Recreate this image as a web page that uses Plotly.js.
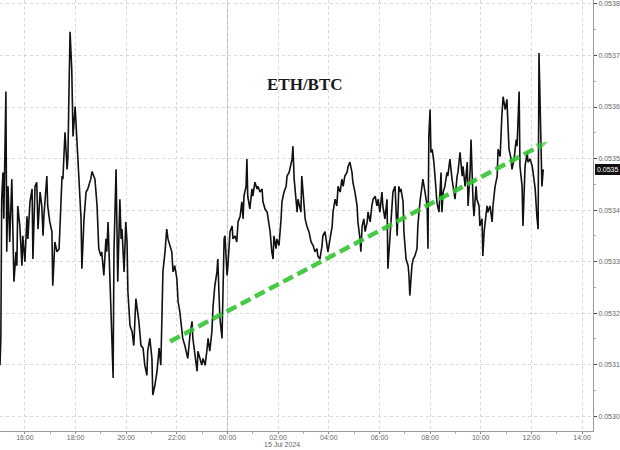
<!DOCTYPE html>
<html>
<head>
<meta charset="utf-8">
<script src="https://cdn.plot.ly/plotly-3.0.1.min.js"></script>
<style>html,body{margin:0;padding:0;background:#fff;}#chart{width:620px;height:450px;}</style>
</head>
<body>
<div id="chart"></div>
<script>
const day1 = "2024-07-14";
const times1 = ["15:01","15:03","15:05","15:08","15:10","15:15","15:17","15:20","15:22","15:24",
"15:29","15:32","15:34","15:39","15:41","15:43","15:48","15:53","15:55","16:00",
"16:05","16:07","16:12","16:17","16:19","16:24","16:28","16:31","16:36","16:40",
"16:43","16:45","16:52","16:54","16:59","17:04","17:06","17:11","17:16","17:21",
"17:25","17:28","17:30","17:35","17:40","17:42","17:44","17:47","17:51","17:54",
"17:59","18:03","18:06","18:10","18:13","18:15","18:20","18:25","18:29","18:36",
"18:39","18:46","18:51","18:55","19:00","19:02","19:07","19:12","19:14","19:17",
"19:21","19:24","19:29","19:31","19:36","19:38","19:40","19:45","19:48","19:50",
"19:55","19:59","20:02","20:04","20:09","20:14","20:18","20:23","20:28","20:30",
"20:35","20:40","20:44","20:49","20:51","20:56","21:01","21:03","21:08","21:13",
"21:18","21:22","21:25","21:27","21:32","21:36","21:39","21:44","21:48","21:51",
"21:55","22:00","22:03","22:07","22:12","22:14","22:19","22:24","22:26","22:31",
"22:36","22:38","22:43","22:48","22:50","22:55","22:59","23:02","23:07","23:11",
"23:14","23:18","23:23","23:26","23:30","23:35","23:37","23:40","23:42","23:47",
"23:49","23:52","23:54","23:59"];
const values1 = [0.053099,0.053151,0.053421,0.053473,0.053383,0.053630,0.053319,0.053446,0.053396,0.053338,
0.053460,0.053369,0.053261,0.053319,0.053292,0.053408,0.053369,0.053292,0.053350,0.053300,
0.053388,0.053344,0.053416,0.053441,0.053305,0.053446,0.053454,0.053363,0.053435,0.053408,
0.053350,0.053388,0.053466,0.053408,0.053377,0.053358,0.053253,0.053338,0.053319,0.053325,
0.053416,0.053466,0.053460,0.053551,0.053479,0.053504,0.053609,0.053746,0.053673,0.053543,
0.053601,0.053531,0.053499,0.053435,0.053383,0.053286,0.053383,0.053435,0.053441,0.053460,
0.053475,0.053460,0.053408,0.053325,0.053311,0.053319,0.053273,0.053344,0.053319,0.053377,
0.053253,0.053203,0.053074,0.053319,0.053479,0.053350,0.053261,0.053421,0.053344,0.053363,
0.053280,0.053377,0.053338,0.053242,0.053176,0.053164,0.053137,0.053228,0.053203,0.053184,
0.053137,0.053132,0.053099,0.053079,0.053126,0.053151,0.053112,0.053041,0.053060,0.053087,
0.053132,0.053099,0.053203,0.053280,0.053319,0.053363,0.053344,0.053331,0.053319,0.053280,
0.053292,0.053267,0.053222,0.053203,0.053164,0.053151,0.053137,0.053118,0.053112,0.053157,
0.053184,0.053151,0.053118,0.053087,0.053126,0.053112,0.053099,0.053112,0.053099,0.053126,
0.053151,0.053126,0.053164,0.053215,0.053253,0.053280,0.053305,0.053234,0.053190,0.053151,
0.053215,0.053344,0.053350,0.053273];

const day2 = "2024-07-15";
const times2 = ["00:01","00:06","00:11","00:13","00:18","00:22","00:25","00:30","00:34","00:37",
"00:39","00:44","00:46","00:48","00:53","00:58","01:00","01:05","01:10","01:12",
"01:17","01:22","01:24","01:29","01:34","01:36","01:41","01:45","01:48","01:50",
"01:55","01:57","02:02","02:07","02:09","02:14","02:19","02:21","02:26","02:33",
"02:35","02:38","02:42","02:45","02:47","02:52","02:54","02:56","03:01","03:04",
"03:08","03:13","03:18","03:23","03:27","03:32","03:34","03:39","03:44","03:46",
"03:51","03:56","03:58","04:03","04:08","04:10","04:15","04:19","04:22","04:27",
"04:31","04:34","04:38","04:43","04:46","04:50","04:55","04:57","05:02","05:07",
"05:09","05:14","05:16","05:19","05:23","05:26","05:31","05:33","05:38","05:42",
"05:45","05:50","05:54","05:57","06:01","06:06","06:08","06:13","06:18","06:20",
"06:25","06:30","06:32","06:37","06:42","06:46","06:49","06:51","06:56","06:58",
"07:03","07:08","07:10","07:12","07:17","07:20","07:24","07:29","07:31","07:36",
"07:41","07:43","07:48","07:53","07:55","07:57","08:00","08:02","08:05","08:09",
"08:14","08:16","08:21","08:26","08:28","08:31","08:35","08:40","08:42","08:47",
"08:52","08:54","08:59","09:04","09:06","09:11","09:16","09:18","09:23","09:28",
"09:30","09:35","09:37","09:42","09:44","09:49","09:51","09:56","09:58","10:03",
"10:05","10:08","10:10","10:15","10:17","10:22","10:27","10:29","10:34","10:39",
"10:41","10:46","10:50","10:53","10:58","11:02","11:05","11:07","11:12","11:14",
"11:19","11:24","11:26","11:31","11:33","11:38","11:40","11:45","11:50","11:52",
"11:57","12:02","12:04","12:09","12:13","12:16","12:18","12:21","12:23","12:25",
"12:28"];
const values2 = [0.053292,0.053358,0.053369,0.053344,0.053350,0.053338,0.053377,0.053388,0.053416,0.053383,
0.053427,0.053446,0.053499,0.053427,0.053402,0.053441,0.053427,0.053454,0.053441,0.053446,
0.053435,0.053441,0.053416,0.053402,0.053396,0.053383,0.053358,0.053319,0.053305,0.053350,
0.053325,0.053344,0.053331,0.053383,0.053416,0.053435,0.053446,0.053466,0.053473,0.053499,
0.053524,0.053460,0.053427,0.053396,0.053421,0.053402,0.053396,0.053466,0.053408,0.053383,
0.053369,0.053358,0.053338,0.053331,0.053319,0.053325,0.053311,0.053305,0.053331,0.053350,
0.053358,0.053331,0.053319,0.053344,0.053369,0.053396,0.053421,0.053408,0.053446,0.053435,
0.053460,0.053446,0.053466,0.053473,0.053485,0.053493,0.053473,0.053454,0.053435,0.053408,
0.053377,0.053344,0.053319,0.053369,0.053383,0.053358,0.053377,0.053396,0.053377,0.053408,
0.053421,0.053427,0.053408,0.053421,0.053396,0.053435,0.053408,0.053383,0.053421,0.053286,
0.053358,0.053408,0.053435,0.053446,0.053350,0.053446,0.053435,0.053441,0.053416,0.053358,
0.053305,0.053292,0.053273,0.053234,0.053292,0.053305,0.053311,0.053325,0.053369,0.053416,
0.053446,0.053460,0.053435,0.053408,0.053325,0.053543,0.053595,0.053512,0.053518,0.053493,
0.053441,0.053416,0.053396,0.053473,0.053396,0.053435,0.053446,0.053473,0.053466,0.053499,
0.053460,0.053446,0.053421,0.053466,0.053473,0.053512,0.053466,0.053485,0.053446,0.053493,
0.053408,0.053479,0.053537,0.053412,0.053388,0.053446,0.053421,0.053408,0.053369,0.053383,
0.053311,0.053358,0.053377,0.053408,0.053396,0.053408,0.053377,0.053408,0.053446,0.053466,
0.053518,0.053504,0.053582,0.053620,0.053595,0.053615,0.053557,0.053518,0.053499,0.053479,
0.053499,0.053537,0.053524,0.053630,0.053485,0.053446,0.053369,0.053485,0.053512,0.053493,
0.053499,0.053485,0.053473,0.053441,0.053388,0.053363,0.053705,0.053582,0.053537,0.053446,
0.053479];

const trendTimes = ["2024-07-14 21:44", "2024-07-15 12:40"];
const trendValues = [0.053145, 0.053533];

const yTickVals = [0.0530,0.0531,0.0532,0.0533,0.0534,0.0535,0.0536,0.0537,0.0538];
const yTickText = ["0.0530","0.0531","0.0532","0.0533","0.0534","0.0535","0.0536","0.0537","0.0538"];
const xTickVals = ["2024-07-14 16:00","2024-07-14 18:00","2024-07-14 20:00","2024-07-14 22:00",
"2024-07-15 00:00","2024-07-15 02:00","2024-07-15 04:00","2024-07-15 06:00","2024-07-15 08:00",
"2024-07-15 10:00","2024-07-15 12:00","2024-07-15 14:00"];
const xTickText = ["16:00","18:00","20:00","22:00","00:00","02:00","04:00","06:00","08:00","10:00","12:00","14:00"];
const chartTitle = "ETH/BTC";
const dateLabel = "15 Jul 2024";
const lastLabel = "0.0535";

const times = times1.map(t => day1 + " " + t).concat(times2.map(t => day2 + " " + t));
const values = values1.concat(values2);
const lastValue = values[values.length - 1];

const traces = [
  {
    x: times, y: values, type: "scatter", mode: "lines",
    line: {color: "#111111", width: 1.6},
    hoverinfo: "skip"
  },
  {
    x: trendTimes, y: trendValues, type: "scatter", mode: "lines+markers",
    line: {color: "rgba(52,196,52,0.9)", width: 4.5, dash: "11px,5px"},
    marker: {symbol: "arrow", size: [0, 13], color: "rgba(52,196,52,0.95)", angleref: "previous", line: {width: 0}},
    hoverinfo: "skip"
  }
];

const layout = {
  width: 620, height: 450,
  margin: {l: 0, r: 27, t: 0, b: 19},
  paper_bgcolor: "#ffffff", plot_bgcolor: "#ffffff",
  showlegend: false,
  font: {family: "Liberation Sans, Arial, sans-serif", size: 7, color: "#666666"},
  xaxis: {
    type: "date",
    range: ["2024-07-14 15:01", "2024-07-15 14:26"],
    tickvals: xTickVals, ticktext: xTickText,
    showgrid: true, gridcolor: "#d8d8d8", griddash: "dot", gridwidth: 1,
    showline: true, linecolor: "#9a9a9a", linewidth: 1,
    ticks: "outside", ticklen: 2, tickcolor: "#888888",
    ticklabelstandoff: -2,
    minor: {dtick: 3600000, ticks: "outside", ticklen: 2, tickcolor: "#aaaaaa", showgrid: false},
    tickfont: {size: 7, color: "#666666"},
    zeroline: false, fixedrange: true
  },
  yaxis: {
    side: "right",
    range: [0.0529712, 0.0538077],
    tickvals: yTickVals, ticktext: yTickText,
    showgrid: true, gridcolor: "#d8d8d8", griddash: "dot", gridwidth: 1,
    showline: true, linecolor: "#9a9a9a", linewidth: 1,
    ticks: "outside", ticklen: 3, tickcolor: "#444444",
    minor: {dtick: 0.00005, ticks: "outside", ticklen: 2, tickcolor: "#aaaaaa", showgrid: false},
    tickfont: {size: 7, color: "#666666"},
    zeroline: false, fixedrange: true
  },
  shapes: [
    {type: "line", xref: "x", yref: "paper", x0: "2024-07-15 00:00", x1: "2024-07-15 00:00", y0: 0, y1: 1,
     line: {color: "#bbbbbb", width: 1}, layer: "below"}
  ],
  annotations: [
    {text: "<b>" + chartTitle + "</b>", xref: "paper", yref: "paper", x: 0.514, y: 0.831,
     showarrow: false, font: {family: "Liberation Serif, Times New Roman, serif", size: 17, color: "#1a1a1a"}},
    {text: dateLabel, xref: "x", yref: "paper", x: "2024-07-15 02:00", y: -0.0209, xshift: 4,
     showarrow: false, yanchor: "top", borderpad: 0, font: {size: 7, color: "#666666"}},
    {text: lastLabel, xref: "paper", yref: "y", x: 1, y: lastValue, xanchor: "left", xshift: 2,
     showarrow: false, bgcolor: "#111111", bordercolor: "#111111", borderpad: 1,
     font: {size: 7, color: "#ffffff"}}
  ]
};

Plotly.newPlot("chart", traces, layout, {displayModeBar: false, staticPlot: true});
</script>
</body>
</html>
